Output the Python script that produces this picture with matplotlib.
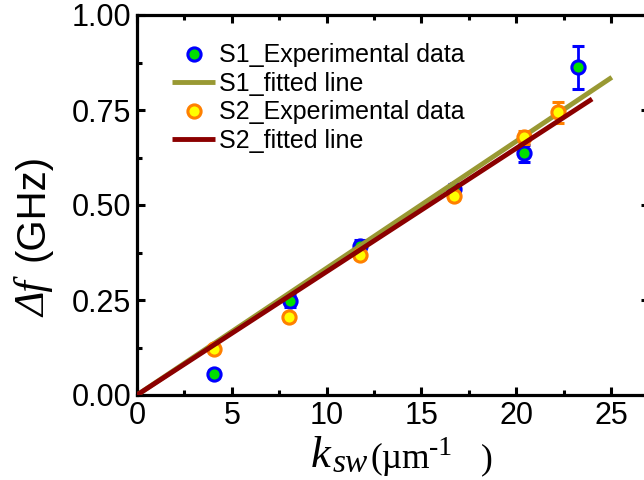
import matplotlib
matplotlib.use("Agg")
import matplotlib.pyplot as plt
from matplotlib.lines import Line2D
from matplotlib.transforms import IdentityTransform
from matplotlib.ticker import MultipleLocator, FormatStrFormatter

# Data
k1 = [4.07, 8.07, 11.76, 16.70, 20.43, 23.24]
f1 = [0.055, 0.247, 0.392, 0.541, 0.636, 0.862]
e1 = [0.010, 0.015, 0.015, 0.015, 0.022, 0.056]

k2 = [4.07, 8.03, 11.76, 16.70, 20.43, 22.19]
f2 = [0.121, 0.206, 0.368, 0.524, 0.678, 0.744]
e2 = [0.010, 0.010, 0.010, 0.010, 0.018, 0.028]

fit1_x = [0.0, 25.04]
fit1_y = [0.0, 0.836]
fit2_x = [0.0, 24.0]
fit2_y = [0.0, 0.779]

labels = ["S1_Experimental data", "S1_fitted line", "S2_Experimental data", "S2_fitted line"]

plt.rcParams['font.family'] = ['Liberation Sans', 'DejaVu Sans']

W, H = 644, 480
fig = plt.figure(figsize=(W / 100, H / 100), dpi=100)
ax = fig.add_axes([137/W, 1 - 395/H, (649-137)/W, (395-15)/H])

s1_style = dict(mfc='#00e000', mec='blue', ms=9.5, mew=2.2)
s2_style = dict(mfc='#ffff00', mec='#ff8000', ms=9.5, mew=2.2)

ax.errorbar(k1, f1, yerr=e1, fmt='o', color='blue', elinewidth=2, capsize=4,
            capthick=2, zorder=3, **s1_style)
l1, = ax.plot(fit1_x, fit1_y, color='#999933', lw=3.5, zorder=4,
              solid_capstyle='butt')
ax.errorbar(k2, f2, yerr=e2, fmt='o', color='#ff8000', elinewidth=2, capsize=4,
            capthick=2, zorder=5, **s2_style)
l2, = ax.plot(fit2_x, fit2_y, color='#8b0000', lw=3.5, zorder=6,
              solid_capstyle='butt')

ax.set_xlim(0, 27)
ax.set_ylim(0, 1.0)
ax.xaxis.set_major_locator(MultipleLocator(5))
ax.xaxis.set_minor_locator(MultipleLocator(2.5))
ax.yaxis.set_major_locator(MultipleLocator(0.25))
ax.yaxis.set_minor_locator(MultipleLocator(0.125))
ax.yaxis.set_major_formatter(FormatStrFormatter('%.2f'))

for s in ax.spines.values():
    s.set_linewidth(2.3)
ax.tick_params(which='both', direction='in', top=True, right=True, width=2.2,
               labelsize=22, pad=4)
ax.tick_params(which='major', length=6)
ax.tick_params(which='minor', length=3.5)

# Axis labels built from pieces (pixel positions measured from top-left)
serif = 'Liberation Serif'
def ptext(x, y, s, **kw):
    fig.text(x, H - y, s, transform=IdentityTransform(), ha='left',
             va='baseline', **kw)

# x label: k_sw (µm-1)
ptext(311, 467, 'k', family=serif, style='italic', size=32)
ptext(333, 472, 'sw', family=serif, style='italic', size=24)
ptext(371, 468, '(µm', family=serif, size=25.5)
ptext(429, 455, '-1', family=serif, size=20)
ptext(481, 468, ')', family=serif, size=25.5)

# y label: Δf (GHz)
fig.text(45, H - 317, 'Δf', transform=IdentityTransform(), ha='left',
         va='baseline', rotation=90, rotation_mode='anchor',
         family=serif, style='italic', size=30)
fig.text(44, H - 261, '(GHz)', transform=IdentityTransform(), ha='left',
         va='baseline', rotation=90, rotation_mode='anchor', size=29)

h1 = Line2D([], [], ls='none', marker='o', **s1_style)
h2 = Line2D([], [], ls='none', marker='o', **s2_style)
leg = ax.legend([h1, l1, h2, l2], labels,
                loc='upper left', bbox_to_anchor=(0.04, 0.965), frameon=False,
                fontsize=18, handlelength=1.7, handletextpad=0.15,
                labelspacing=0.18, borderaxespad=0.2)

fig.savefig('out.png', dpi=100)
